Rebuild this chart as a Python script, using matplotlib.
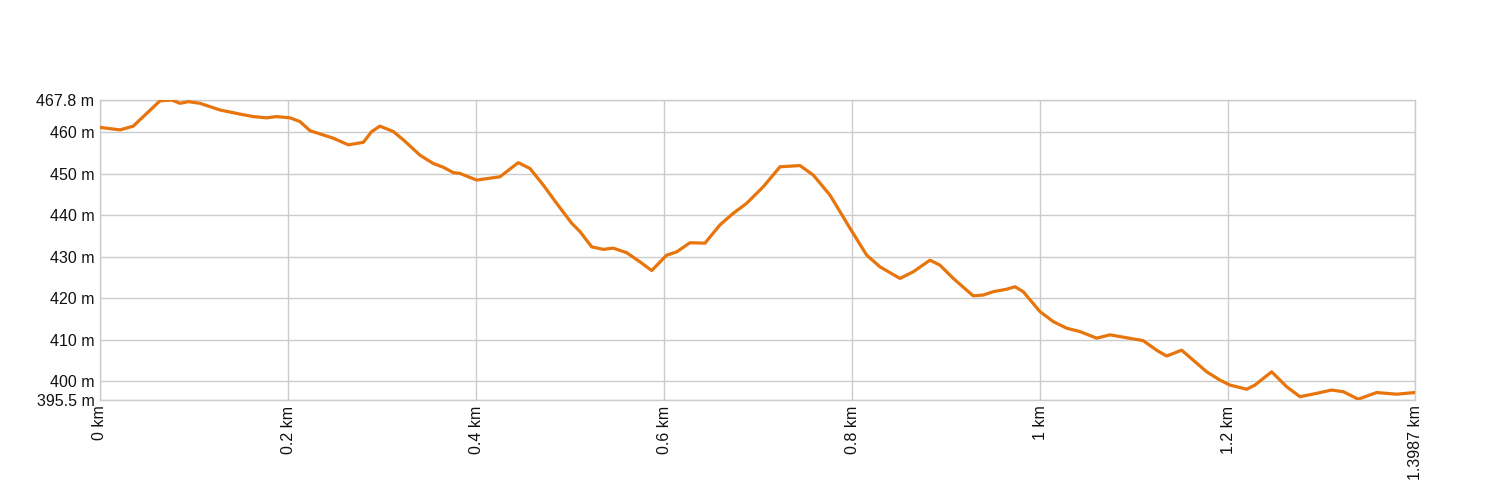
import matplotlib
matplotlib.use("Agg")
import matplotlib.pyplot as plt

# distance (km) and elevation (m)
dist_km = [0.000, 0.0213, 0.0354, 0.0461, 0.0638, 0.0763, 0.0851, 0.0939, 0.1064, 0.1276,
           0.1489, 0.1631, 0.1773, 0.1879, 0.2021, 0.2127, 0.2234, 0.2481, 0.2641, 0.2801,
           0.2890, 0.2978, 0.3120, 0.3226, 0.3404, 0.3545, 0.3651, 0.3758, 0.3829, 0.4007,
           0.4254, 0.4449, 0.4573, 0.4715, 0.4857, 0.5017, 0.5105, 0.5230, 0.5353, 0.5459,
           0.5602, 0.5743, 0.5868, 0.6027, 0.6134, 0.6275, 0.6435, 0.6594, 0.6736, 0.6878,
           0.7055, 0.7233, 0.7445, 0.7587, 0.7764, 0.7977, 0.8155, 0.8296, 0.8509, 0.8650,
           0.8828, 0.8934, 0.9076, 0.9288, 0.9395, 0.9501, 0.9644, 0.9732, 0.9820, 0.9998,
           1.0139, 1.0282, 1.0423, 1.0601, 1.0742, 1.0920, 1.1096, 1.1239, 1.1345, 1.1505,
           1.1628, 1.1771, 1.1912, 1.2019, 1.2196, 1.2285, 1.2462, 1.2622, 1.2763, 1.2941,
           1.3100, 1.3224, 1.3383, 1.3579, 1.3791, 1.3987]
elev_m = [461.2, 460.6, 461.5, 463.8, 467.6, 467.8, 467.0, 467.4, 467.0, 465.4,
          464.4, 463.8, 463.5, 463.8, 463.5, 462.6, 460.4, 458.6, 457.0, 457.6,
          460.2, 461.5, 460.2, 458.2, 454.5, 452.5, 451.6, 450.3, 450.1, 448.5,
          449.3, 452.7, 451.3, 447.3, 442.9, 438.1, 436.1, 432.4, 431.8, 432.1,
          431.0, 428.8, 426.7, 430.4, 431.2, 433.4, 433.3, 437.7, 440.5, 442.9,
          446.9, 451.7, 452.0, 449.7, 444.9, 436.9, 430.4, 427.6, 424.8, 426.4,
          429.2, 428.0, 424.8, 420.6, 420.8, 421.6, 422.2, 422.8, 421.6, 416.8,
          414.4, 412.8, 412.0, 410.4, 411.2, 410.5, 409.8, 407.5, 406.1, 407.5,
          405.1, 402.3, 400.3, 399.1, 398.1, 399.1, 402.3, 398.7, 396.3, 397.1,
          397.9, 397.5, 395.7, 397.3, 396.9, 397.3]

y_ticks = [395.5, 400, 410, 420, 430, 440, 450, 460, 467.8]
y_labels = ["395.5 m", "400 m", "410 m", "420 m", "430 m", "440 m", "450 m", "460 m", "467.8 m"]
x_ticks = [0, 0.2, 0.4, 0.6, 0.8, 1.0, 1.2, 1.3987]
x_labels = ["0 km", "0.2 km", "0.4 km", "0.6 km", "0.8 km", "1 km", "1.2 km", "1.3987 km"]

plt.rcParams['font.family'] = ['Liberation Sans', 'DejaVu Sans']

fig = plt.figure(figsize=(15, 5), dpi=100)
ax = fig.add_axes([100/1500, 0.2, 1315/1500, 0.6])

ax.plot(dist_km, elev_m, color="#e8740c", linewidth=2.3, solid_joinstyle="round", zorder=3)

ax.set_xlim(0, 1.3987)
ax.set_ylim(395.5, 467.8)
ax.set_yticks(y_ticks)
ax.set_yticklabels(y_labels, fontsize=11.5, color="#111111")
ax.set_xticks(x_ticks)
ax.set_xticklabels(x_labels, fontsize=11.5, color="#111111", rotation=90, ha="center", va="top")
ax.tick_params(axis="both", length=0)
ax.tick_params(axis="y", pad=4)
ax.tick_params(axis="x", pad=4)
ax.grid(True, color="#cccccc", linewidth=1.0, zorder=0)
for s in ax.spines.values():
    s.set_color("#cccccc")
    s.set_linewidth(1.0)

fig.savefig("out.png", dpi=100)
